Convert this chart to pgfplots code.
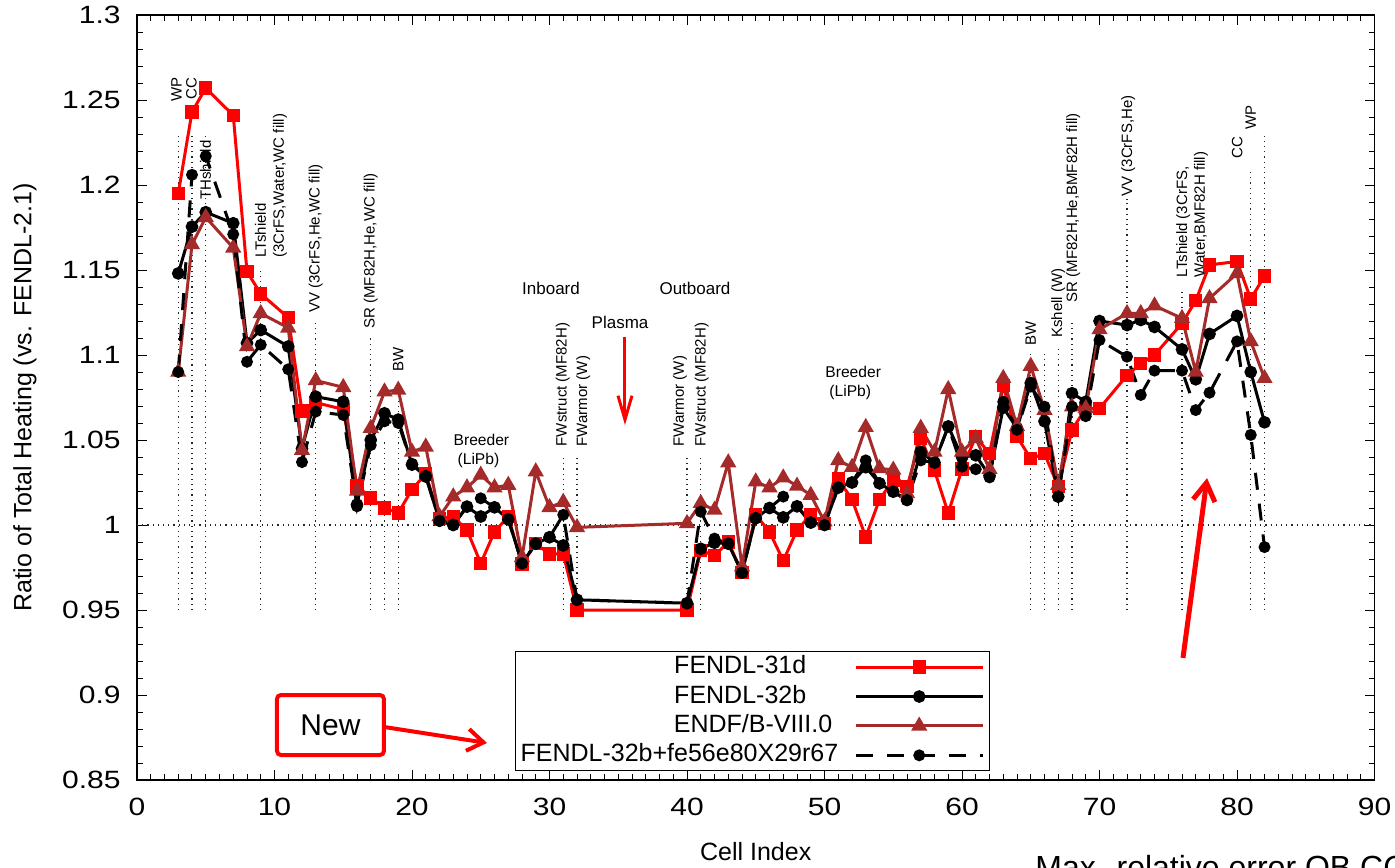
\documentclass[border=0pt]{standalone}
\usepackage{fontspec}
\setmainfont{Liberation Sans}
\newfontfamily\tickfont[FakeStretch=1.2]{Liberation Sans}
\usepackage{pgfplots}
\usepackage{pgfplotstable}
\pgfplotsset{compat=1.18}
\usetikzlibrary{arrows.meta}
\definecolor{fred}{RGB}{255,0,0}
\definecolor{fbrown}{RGB}{165,42,42}
\newcommand{\rotfont}{\fontsize{7.5}{8.9}\selectfont}
\newcommand{\annfont}{\fontsize{8.5}{9.5}\selectfont}

\pgfplotstableread{
x R B E D
3 1.195 1.148 1.090 1.090
4 1.243 1.1755 1.165 1.206
5 1.257 1.184 1.181 1.217
7 1.241 1.1775 1.163 1.171
8 1.149 1.107 1.105 1.096
9 1.136 1.1147 1.1245 1.106
11 1.122 1.105 1.116 1.0916
12 1.067 1.045 1.044 1.037
13 1.072 1.0755 1.085 1.0667
15 1.068 1.0725 1.081 1.0647
16 1.023 1.012 1.020 1.011
17 1.016 1.050 1.057 1.047
18 1.010 1.0657 1.0784 1.061
19 1.007 1.062 1.0794 1.060
20 1.021 1.0355 1.043 1.036
21 1.030 1.0285 1.046 1.029
22 1.004 1.0025 1.005 1.0025
23 1.005 1.000 1.0167 1.000
24 0.997 1.0108 1.022 1.0108
25 0.9775 1.005 1.0294 1.0157
26 0.996 1.0104 1.022 1.0104
27 1.005 1.0033 1.0235 1.0033
28 0.977 0.9775 0.981 0.9775
29 0.989 0.989 1.0314 0.989
30 0.983 0.9928 1.0104 0.9928
31 0.983 0.988 1.0135 1.006
32 0.950 0.956 0.9986 0.956
40 0.950 0.954 1.001 0.954
41 0.985 0.986 1.0128 1.0078
42 0.982 0.9896 1.0088 0.992
43 0.990 0.989 1.0367 0.989
44 0.972 0.972 0.9755 0.972
45 1.006 1.004 1.0255 1.004
46 0.996 1.010 1.022 1.010
47 0.979 1.0045 1.0278 1.0167
48 0.997 1.011 1.023 1.011
49 1.006 1.0014 1.0176 1.0014
50 1.001 1.000 1.002 1.000
51 1.027 1.022 1.038 1.022
52 1.015 1.025 1.034 1.025
53 0.993 1.034 1.0575 1.038
54 1.015 1.0245 1.0333 1.0245
55 1.0265 1.0196 1.0324 1.0196
56 1.0225 1.0147 1.0186 1.0147
57 1.051 1.043 1.057 1.038
58 1.032 1.0367 1.043 1.0367
59 1.007 1.058 1.0798 1.058
60 1.033 1.040 1.043 1.0343
61 1.052 1.041 1.051 1.0328
62 1.042 1.029 1.0328 1.028
63 1.082 1.069 1.0863 1.0725
64 1.052 1.057 1.058 1.056
65 1.039 1.0835 1.0935 1.0814
66 1.042 1.061 1.0676 1.0696
67 1.0225 1.0167 1.0235 1.0167
68 1.056 1.0775 1.0696 1.0696
69 1.0686 1.0725 1.0686 1.064
70 1.0686 1.120 1.115 1.1088
72 1.088 1.1176 1.1245 1.099
73 1.095 1.1206 1.1245 1.0765
74 1.100 1.1165 1.129 1.0908
76 1.1186 1.1033 1.1216 1.0908
77 1.132 1.0857 1.090 1.0676
78 1.153 1.1124 1.1333 1.0778
80 1.155 1.123 1.148 1.108
81 1.133 1.090 1.108 1.053
82 1.1465 1.0604 1.0863 0.987
}\data

\begin{document}
\begin{tikzpicture}
\begin{axis}[
  at={(0pt,0pt)}, anchor=south west,
  scale only axis, width=618.75pt, height=382.5pt,
  xmin=0, xmax=90, ymin=0.85, ymax=1.3,
  xtick={0,10,...,90}, minor x tick num=9,
  ytick={0.85,0.9,0.95,1,1.05,1.1,1.15,1.2,1.25,1.3}, minor y tick num=4,
  major tick length=5pt, minor tick length=3pt,
  every tick/.style={black, line width=0.5pt},
  axis line style={line width=0.6pt},
  clip=false,
  /pgf/number format/assume math mode=true,
  every tick label/.append style={font=\tickfont\fontsize{12.5}{15}\selectfont},
  yticklabel style={inner sep=0pt, xshift=-8pt},
  xticklabel style={inner sep=0pt, yshift=-9pt},
  xlabel={Cell Index},
  ylabel={Ratio of Total Heating (vs. FENDL-2.1)},
  xlabel style={at={(axis description cs:0.5,-0.0941)}, anchor=center, font=\fontsize{12.5}{15}\selectfont},
  ylabel style={at={(axis description cs:-0.0905,0.5)}, anchor=center, font=\fontsize{12.5}{15}\selectfont},
  legend style={at={(axis description cs:0.3055,0.1686)}, anchor=north west,
    draw=black, line width=0.6pt, inner xsep=2.5pt, inner ysep=2pt,
    font=\fontsize{12.5}{15}\selectfont, row sep=3.2pt,
    nodes={inner sep=0pt, text height=9pt, text depth=2.5pt},
    /tikz/every odd column/.append style={column sep=8pt}},
  legend cell align=right,
  legend plot pos=right,
  legend image code/.code={\draw[mark repeat=2,mark phase=2,#1] plot coordinates {(0pt,0pt)(31.75pt,0pt)(63.5pt,0pt)};},
]
% reference lines
\addplot[black!85, dotted, line width=0.6pt, forget plot] coordinates {(0,1)(90,1)};
\addplot[black!85, dotted, line width=0.6pt, forget plot] coordinates {(3,0.95)(3,1.231)};
\addplot[black!85, dotted, line width=0.6pt, forget plot] coordinates {(4,0.95)(4,1.231)};
\addplot[black!85, dotted, line width=0.6pt, forget plot] coordinates {(5,0.95)(5,1.231)};
\addplot[black!85, dotted, line width=0.6pt, forget plot] coordinates {(9,0.95)(9,1.150)};
\addplot[black!85, dotted, line width=0.6pt, forget plot] coordinates {(13,0.95)(13,1.1206)};
\addplot[black!85, dotted, line width=0.6pt, forget plot] coordinates {(17,0.95)(17,1.1106)};
\addplot[black!85, dotted, line width=0.6pt, forget plot] coordinates {(18,0.95)(18,1.049)};
\addplot[black!85, dotted, line width=0.6pt, forget plot] coordinates {(19,0.95)(19,1.0765)};
\addplot[black!85, dotted, line width=0.6pt, forget plot] coordinates {(31,0.95)(31,1.0394)};
\addplot[black!85, dotted, line width=0.6pt, forget plot] coordinates {(32,0.95)(32,1.0394)};
\addplot[black!85, dotted, line width=0.6pt, forget plot] coordinates {(40,0.95)(40,1.0394)};
\addplot[black!85, dotted, line width=0.6pt, forget plot] coordinates {(41,0.95)(41,1.0394)};
\addplot[black!85, dotted, line width=0.6pt, forget plot] coordinates {(65,0.95)(65,1.101)};
\addplot[black!85, dotted, line width=0.6pt, forget plot] coordinates {(66,0.95)(66,1.101)};
\addplot[black!85, dotted, line width=0.6pt, forget plot] coordinates {(67,0.95)(67,1.106)};
\addplot[black!85, dotted, line width=0.6pt, forget plot] coordinates {(68,0.95)(68,1.1206)};
\addplot[black!85, dotted, line width=0.6pt, forget plot] coordinates {(72,0.95)(72,1.192)};
\addplot[black!85, dotted, line width=0.6pt, forget plot] coordinates {(76,0.95)(76,1.139)};
\addplot[black!85, dotted, line width=0.6pt, forget plot] coordinates {(81,0.95)(81,1.209)};
\addplot[black!85, dotted, line width=0.6pt, forget plot] coordinates {(82,0.95)(82,1.2306)};

% data
\addplot[fred, line width=1.5pt, mark=square*, mark size=2.6pt] table[x=x,y=R]{\data};
\addlegendentry{FENDL-31d\hspace*{16pt}}
\addplot[black, line width=1.5pt, mark=*, mark size=2.4pt] table[x=x,y=B]{\data};
\addlegendentry{FENDL-32b\hspace*{16pt}}
\addplot[fbrown, line width=1.5pt, mark=triangle*, mark size=3.2pt] table[x=x,y=E]{\data};
\addlegendentry{ENDF/B-VIII.0\hspace*{3pt}}
\addplot[black, line width=1.5pt, dash pattern=on 8.5pt off 7pt, mark=*, mark size=2.2pt, mark options={solid}] table[x=x,y=D]{\data};
\addlegendentry{FENDL-32b+fe56e80X29r67}

% rotated annotations
\begin{scope}[every node/.style={rotate=90, anchor=west, inner sep=0pt, font=\rotfont, align=left}]
\node at (axis cs:2.873,1.2488) {WP};
\node at (axis cs:3.964,1.2500) {CC};
\node at (axis cs:4.982,1.1912) {THshield};
\node at (axis cs:9.745,1.1571) {LTshield\\(3CrFS,Water,WC fill)};
\node at (axis cs:12.996,1.1247) {VV (3CrFS,He,WC fill)};
\node at (axis cs:16.996,1.1153) {SR (MF82H,He,WC fill)};
\node at (axis cs:19.004,1.0900) {BW};
\node at (axis cs:30.96,1.0461) {FWstruct (MF82H)};
\node at (axis cs:32.46,1.0461) {FWarmor (W)};
\node at (axis cs:39.49,1.0461) {FWarmor (W)};
\node at (axis cs:41.07,1.0461) {FWstruct (MF82H)};
\node at (axis cs:65.0,1.1053) {BW};
\node at (axis cs:67.0,1.1100) {Kshell (W)};
\node at (axis cs:68.09,1.1308) {SR (MF82H,He,BMF82H fill)};
\node at (axis cs:72.09,1.1931) {VV (3CrFS,He)};
\node at (axis cs:76.73,1.1456) {LTshield (3CrFS,\\Water,BMF82H fill)};
\node at (axis cs:80.02,1.2153) {CC};
\node at (axis cs:81.0,1.2324) {WP};
\end{scope}
% horizontal annotations
\node[font=\annfont, inner sep=0pt] at (axis cs:30.11,1.1394) {Inboard};
\node[font=\annfont, inner sep=0pt] at (axis cs:40.58,1.1394) {Outboard};
\node[font=\annfont, inner sep=0pt] at (axis cs:35.13,1.1190) {Plasma};
\node[font=\fontsize{7.8}{9.5}\selectfont, inner sep=0pt, anchor=west, align=left] at (axis cs:23.0,1.0438) {Breeder\\\hspace*{2pt}(LiPb)};
\node[font=\fontsize{7.8}{9.5}\selectfont, inner sep=0pt, anchor=west, align=left] at (axis cs:50.04,1.0836) {Breeder\\\hspace*{2pt}(LiPb)};
\draw[fred, line width=1.5pt, -{Straight Barb[length=12pt,width=7pt]}] (axis cs:35.49,1.1108) -- (axis cs:35.49,1.0588);
% New box
\draw[fred, line width=2pt, rounded corners=2pt, fill=white] (axis cs:10.18,0.9) rectangle (axis cs:17.96,0.8647);
\node[font=\fontsize{15}{18}\selectfont, inner sep=0pt] at (axis cs:14.07,0.8824) {New};
\draw[fred, line width=2pt, -{Straight Barb[length=8pt,width=11pt]}] (axis cs:17.96,0.8812) -- (axis cs:25.45,0.8718);
\draw[fred, line width=2.5pt, -{Straight Barb[length=9pt,width=11pt]}] (axis cs:76.07,0.9218) -- (axis cs:77.82,1.0276);
\end{axis}
\node[anchor=base west, inner sep=0pt, font=\fontsize{16}{19}\selectfont] at (449pt,-49pt) {Max. relative error OB CC};
\pgfresetboundingbox
\path[use as bounding box] (-68.5pt,-43.5pt) rectangle (629pt,390pt);
\end{tikzpicture}
\end{document}
